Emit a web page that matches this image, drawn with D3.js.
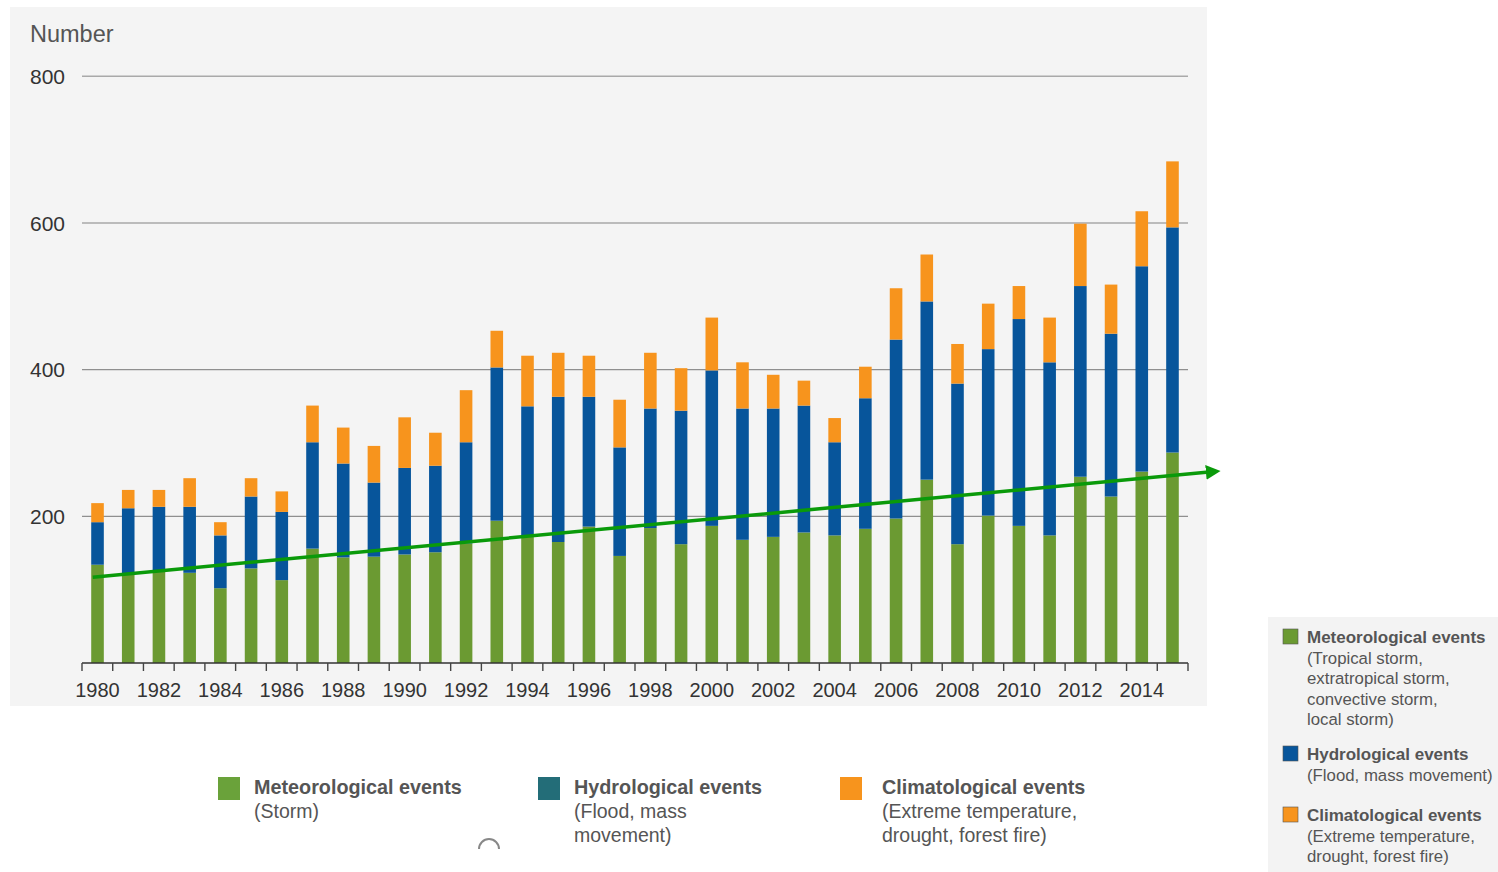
<!DOCTYPE html>
<html>
<head>
<meta charset="utf-8">
<script src="https://cdn.jsdelivr.net/npm/d3@7"></script>
<style>
  html, body { margin: 0; padding: 0; background: #ffffff; }
  svg { display: block; font-family: "Liberation Sans", Arial, sans-serif; }
</style>
</head>
<body>
<svg id="chart" width="1498" height="872"></svg>
<script>
// Natural loss events worldwide, number of events per year by peril group
const years = d3.range(1980, 2016);
const meteorological = [134,120,125,123,102,129,113,156,144,145,148,151,163,194,172,165,186,146,184,162,
                        187,168,172,178,174,183,197,250,162,201,187,174,254,227,261,287];
const hydrological   = [ 58, 91, 88, 90, 72, 98, 93,145,128,101,118,118,138,209,178,198,177,148,163,182,
                        212,179,175,173,127,178,244,243,219,227,282,236,260,222,280,307];
const climatological = [ 26, 25, 23, 39, 18, 25, 28, 50, 49, 50, 69, 45, 71, 50, 69, 60, 56, 65, 76, 58,
                         72, 63, 46, 34, 33, 43, 70, 64, 54, 62, 45, 61, 85, 67, 75, 90];
const yTicks = [200, 400, 600, 800];
const xTickLabels = d3.range(1980, 2015, 2);
// hand-drawn trend arrow (year, number of events)
const trendYears  = [1979.85, 2016.6];
const trendValues = [117, 262];

const seriesKeys = ["met", "hyd", "cli"];
const colors = { met: "#6b9a32", hyd: "#07559b", cli: "#f7941d" };

const svg = d3.select("#chart");

// panels
svg.append("rect").attr("x", 10).attr("y", 7).attr("width", 1197).attr("height", 699).attr("fill", "#f4f4f4");
svg.append("rect").attr("x", 1268).attr("y", 617).attr("width", 230).attr("height", 255).attr("fill", "#f3f3f3");

const plotLeft = 82, plotRight = 1188, plotBottom = 663;
const x = d3.scaleBand().domain(years).range([plotLeft, plotRight]).paddingInner(0.59).paddingOuter(0.3);
const step = (plotRight - plotLeft) / years.length;
const xYear = d3.scaleLinear().domain([1980, 2015])
  .range([plotLeft + step / 2, plotRight - step / 2]);
const y = d3.scaleLinear().domain([0, 800]).range([plotBottom, 76.3]);

// gridlines
svg.append("g").selectAll("line").data(yTicks).join("line")
  .attr("x1", plotLeft).attr("x2", plotRight)
  .attr("y1", d => y(d)).attr("y2", d => y(d))
  .attr("stroke", d => d >= 600 ? "#a9a9a9" : "#8f8f8f").attr("stroke-width", 1.4);

// y labels
svg.append("g").selectAll("text").data(yTicks).join("text")
  .attr("x", 30).attr("y", d => y(d)).attr("dy", "0.36em")
  .attr("font-size", 21).attr("fill", "#333").text(d => d);

svg.append("text").attr("x", 30).attr("y", 34).attr("dy", "0.36em")
  .attr("font-size", 23.5).attr("fill", "#555").text("Number");

// stacked bars
const rows = years.map((yr, i) => ({ year: yr, met: meteorological[i], hyd: hydrological[i], cli: climatological[i] }));
const stacked = d3.stack().keys(seriesKeys)(rows);

svg.append("g").selectAll("g").data(stacked).join("g")
  .attr("fill", d => colors[d.key])
  .selectAll("rect").data(d => d).join("rect")
  .attr("x", d => x(d.data.year))
  .attr("width", x.bandwidth())
  .attr("y", d => y(d[1]))
  .attr("height", d => y(d[0]) - y(d[1]));

// x axis: baseline, ticks between bars, labels every other year
const axis = svg.append("g");
axis.append("line").attr("x1", plotLeft).attr("x2", plotRight)
  .attr("y1", plotBottom).attr("y2", plotBottom).attr("stroke", "#333").attr("stroke-width", 1.5);
const boundaries = d3.range(years.length + 1).map(i => plotLeft + i * step);
axis.selectAll("line.tick").data(boundaries).join("line").attr("class", "tick")
  .attr("x1", d => d).attr("x2", d => d)
  .attr("y1", plotBottom).attr("y2", plotBottom + 8)
  .attr("stroke", "#444").attr("stroke-width", 1.4);
axis.selectAll("text").data(xTickLabels).join("text")
  .attr("x", d => x(d) + x.bandwidth() / 2).attr("y", 690).attr("dy", "0.36em")
  .attr("text-anchor", "middle").attr("font-size", 20).attr("fill", "#333").text(d => d);

// trend arrow
const defs = svg.append("defs");
defs.append("marker").attr("id", "arrowHead")
  .attr("viewBox", "0 0 10 10").attr("refX", 2).attr("refY", 5)
  .attr("markerWidth", 4.2).attr("markerHeight", 4.2).attr("orient", "auto")
  .append("path").attr("d", "M0,0 L10,5 L0,10 Z").attr("fill", "#0a9a0a");
const tx0 = xYear(trendYears[0]), ty0 = y(trendValues[0]);
const tx1 = xYear(trendYears[1]), ty1 = y(trendValues[1]);
const headLen = 13, ang = Math.atan2(ty1 - ty0, tx1 - tx0);
svg.append("line")
  .attr("x1", tx0).attr("y1", ty0)
  .attr("x2", tx1 - headLen * Math.cos(ang)).attr("y2", ty1 - headLen * Math.sin(ang))
  .attr("stroke", "#0a9a0a").attr("stroke-width", 3.5)
  .attr("marker-end", "url(#arrowHead)");

// bottom legend
const bottomLegend = [
  { color: "#6aa23a", x: 218, tx: 254, title: "Meteorological events", lines: ["(Storm)"] },
  { color: "#236d78", x: 538, tx: 574, title: "Hydrological events", lines: ["(Flood, mass", "movement)"] },
  { color: "#f7941d", x: 840, tx: 882, title: "Climatological events", lines: ["(Extreme temperature,", "drought, forest fire)"] }
];
const bl = svg.append("g").selectAll("g").data(bottomLegend).join("g");
bl.append("rect").attr("x", d => d.x).attr("y", 777).attr("width", 22).attr("height", 23).attr("fill", d => d.color);
bl.append("text").attr("x", d => d.tx).attr("y", 787).attr("dy", "0.36em")
  .attr("font-size", 19.8).attr("font-weight", "bold").attr("fill", "#555").text(d => d.title);
bl.each(function(d) {
  d3.select(this).selectAll("text.sub").data(d.lines).join("text").attr("class", "sub")
    .attr("x", d.tx).attr("y", (t, i) => 811 + i * 24).attr("dy", "0.36em")
    .attr("font-size", 19.5).attr("fill", "#555").text(t => t);
});
// partially visible scroll icon
svg.append("path").attr("d", "M479,849 A10,10 0 0 1 499,849")
  .attr("fill", "none").attr("stroke", "#888").attr("stroke-width", 2);

// side legend
const sideLegend = [
  { color: "#6b9a32", y: 637, title: "Meteorological events",
    lines: ["(Tropical storm,", "extratropical storm,", "convective storm,", "local storm)"] },
  { color: "#07559b", y: 754, title: "Hydrological events", lines: ["(Flood, mass movement)"] },
  { color: "#f7941d", y: 815, title: "Climatological events", lines: ["(Extreme temperature,", "drought, forest fire)"] }
];
const sl = svg.append("g").selectAll("g").data(sideLegend).join("g");
sl.append("rect").attr("x", 1283).attr("y", d => d.y - 8).attr("width", 15).attr("height", 15)
  .attr("fill", d => d.color).attr("stroke", "#555").attr("stroke-width", 0.6);
sl.append("text").attr("x", 1307).attr("y", d => d.y).attr("dy", "0.36em")
  .attr("font-size", 17).attr("font-weight", "bold").attr("fill", "#555").text(d => d.title);
sl.each(function(d) {
  d3.select(this).selectAll("text.sub").data(d.lines).join("text").attr("class", "sub")
    .attr("x", 1307).attr("y", (t, i) => d.y + 20.5 * (i + 1)).attr("dy", "0.36em")
    .attr("font-size", 16.8).attr("fill", "#555").text(t => t);
});
</script>
</body>
</html>
